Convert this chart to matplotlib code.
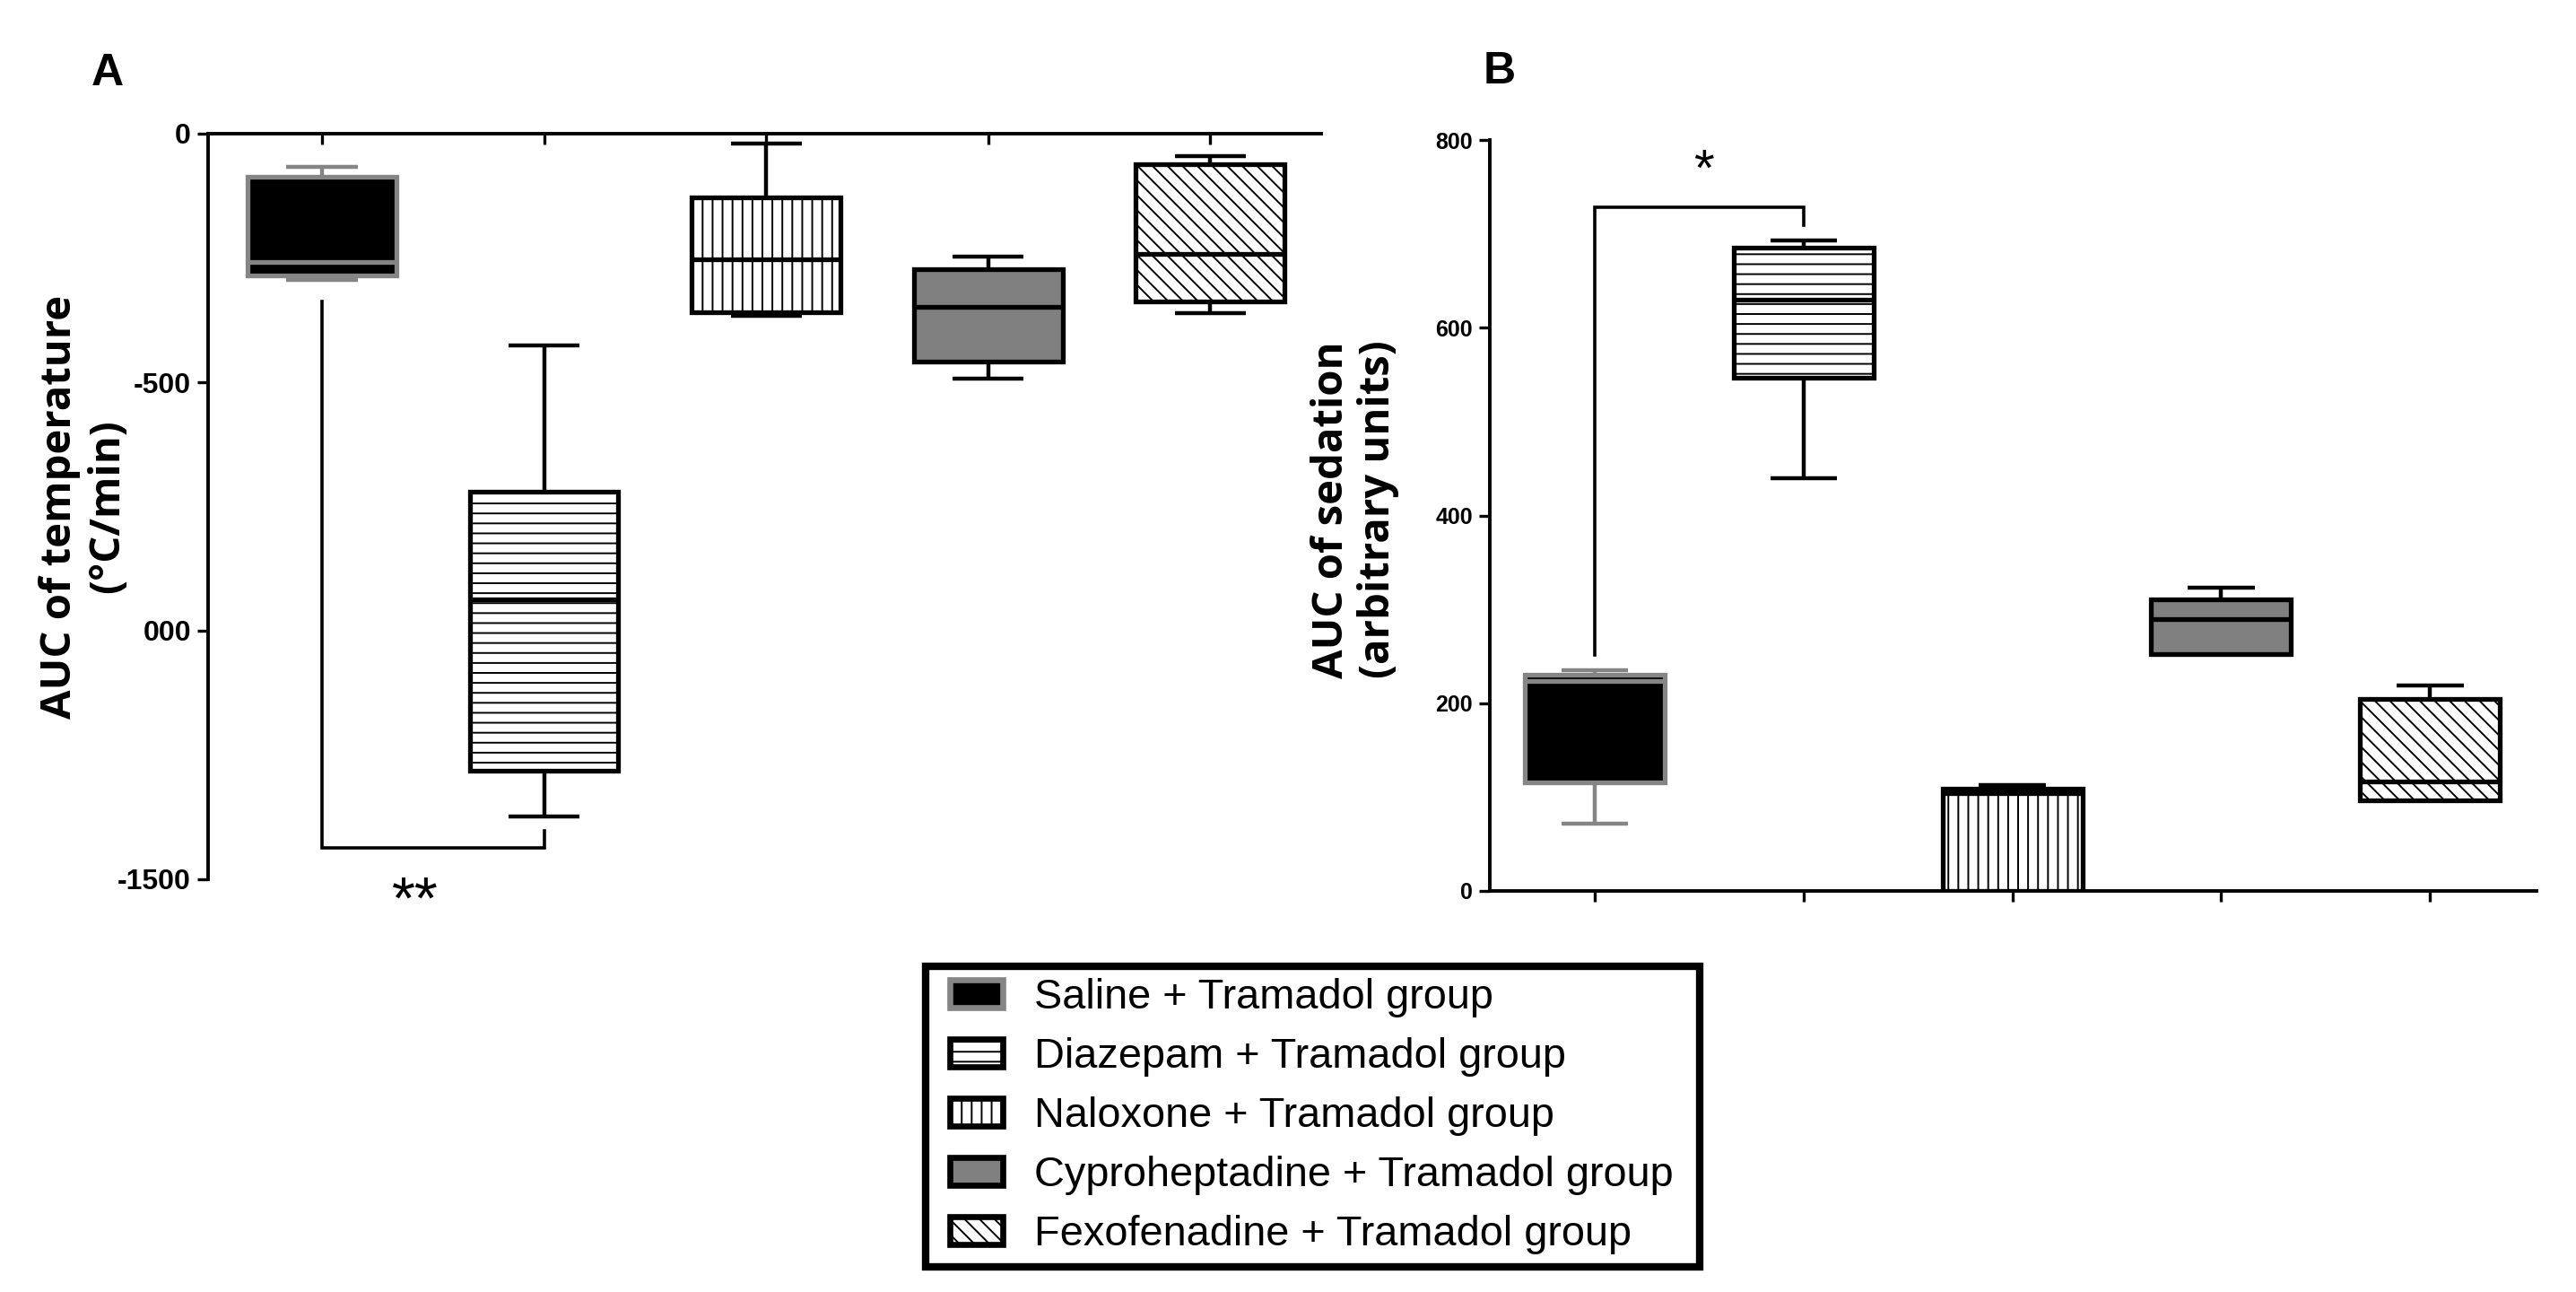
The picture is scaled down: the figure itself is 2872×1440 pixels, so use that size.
import matplotlib
matplotlib.use("Agg")
import matplotlib.pyplot as plt
from matplotlib.patches import Patch, Rectangle
from matplotlib.legend_handler import HandlerPatch

# ---------------- data ----------------
groups = ["Saline + Tramadol group", "Diazepam + Tramadol group",
          "Naloxone + Tramadol group", "Cyproheptadine + Tramadol group",
          "Fexofenadine + Tramadol group"]

# Panel A: AUC of temperature (°C/min)
temp_whislo = [-295, -1373, -367, -492, -361]
temp_q1     = [-286, -1282, -359, -458, -337]
temp_med    = [-258,  -937, -252, -349, -242]
temp_q3     = [ -87,  -720, -128, -273,  -61]
temp_whishi = [ -67,  -426,  -19, -247,  -46]
temp_yticks = [0, -500, -1000, -1500]
temp_yticklabels = ["0", "-500", "000", "-1500"]

# Panel B: AUC of sedation (arbitrary units)
sed_whislo = [ 72, 440,   0, 252,  97]
sed_q1     = [116, 547,   0, 252,  97]
sed_med    = [224, 630, 104, 290, 117]
sed_q3     = [230, 685, 109, 311, 205]
sed_whishi = [235, 693, 113, 323, 219]
sed_yticks = [0, 200, 400, 600, 800]
sed_yticklabels = ["0", "200", "400", "600", "800"]

# significance brackets: left group, right group, bar level, left start, right end, mark
temp_sig = dict(g1=0, g2=1, level=-1436, start=-337, end=-1403, mark="**",
                mark_x=0.42, mark_y=-1548)
sed_sig = dict(g1=0, g2=1, level=728, start=251, end=709, mark="*",
               mark_x=0.52, mark_y=766)

# ---------------- style ----------------
faces = ["black", "white", "white", "#808080", "white"]
edges = ["#858585", "black", "black", "black", "black"]
hatches = [None, "---", "|||", None, "\\\\\\\\"]

plt.rcParams["font.family"] = ["Liberation Sans", "DejaVu Sans"]
plt.rcParams["hatch.linewidth"] = 0.7

W, H = 2872, 1440
fig = plt.figure(figsize=(W / 200, H / 200), dpi=200)

axA = fig.add_axes([232 / W, 1 - 980 / H, (1473 - 232) / W, (980 - 149) / H])
axB = fig.add_axes([1661 / W, 1 - 993 / H, (2828 - 1661) / W, (993 - 156) / H])


def draw_boxes(ax, lo, q1, med, q3, hi):
    stats = [dict(whislo=lo[i], q1=q1[i], med=med[i], q3=q3[i], whishi=hi[i], fliers=[])
             for i in range(len(lo))]
    b = ax.bxp(stats, positions=list(range(len(stats))), widths=0.67, capwidths=0.32,
               patch_artist=True, showfliers=False, manage_ticks=False)
    for i, box in enumerate(b["boxes"]):
        box.set_facecolor(faces[i])
        box.set_edgecolor(edges[i])
        box.set_linewidth(1.9)
        if hatches[i]:
            box.set_hatch(hatches[i])
        box.set_zorder(3)
    for i, m in enumerate(b["medians"]):
        m.set_color(edges[i])
        m.set_linewidth(1.9)
        m.set_zorder(4)
    for i in range(len(stats)):
        for art in (b["whiskers"][2 * i], b["whiskers"][2 * i + 1],
                    b["caps"][2 * i], b["caps"][2 * i + 1]):
            art.set_color(edges[i])
            art.set_linewidth(1.6)
            art.set_solid_capstyle("butt")


def draw_sig(ax, s, fontsize):
    ax.plot([s["g1"], s["g1"], s["g2"], s["g2"]],
            [s["start"], s["level"], s["level"], s["end"]],
            color="black", lw=1.3, clip_on=False, solid_joinstyle="miter")
    ax.text(s["mark_x"], s["mark_y"], s["mark"], ha="center", va="center",
            fontsize=fontsize, clip_on=False)


# ---- Panel A ----
draw_boxes(axA, temp_whislo, temp_q1, temp_med, temp_q3, temp_whishi)
draw_sig(axA, temp_sig, 24)
axA.set_xlim(-0.513, 4.50)
axA.set_ylim(-1500, 0)
for sp in ("right", "bottom"):
    axA.spines[sp].set_visible(False)
for sp in ("top", "left"):
    axA.spines[sp].set_linewidth(1.4)
axA.xaxis.tick_top()
axA.set_xticks(range(5))
axA.set_xticklabels([])
axA.tick_params(axis="x", direction="in", length=4.3, width=1.2, top=True, bottom=False)
axA.set_yticks(temp_yticks)
axA.set_yticklabels(temp_yticklabels, fontweight="bold")
axA.tick_params(axis="y", direction="out", length=4.3, width=1.2, pad=2.5, labelsize=11.5)
axA.set_ylabel("AUC of temperature\n(°C/min)", family="Open Sans", fontweight="bold",
               fontsize=17, linespacing=1.15)
axA.yaxis.label.set_verticalalignment("center")
axA.yaxis.set_label_coords(-0.112, 0.5)

# ---- Panel B ----
draw_boxes(axB, sed_whislo, sed_q1, sed_med, sed_q3, sed_whishi)
draw_sig(axB, sed_sig, 21)
axB.set_xlim(-0.503, 4.51)
axB.set_ylim(0, 800)
for sp in ("right", "top"):
    axB.spines[sp].set_visible(False)
for sp in ("bottom", "left"):
    axB.spines[sp].set_linewidth(1.4)
axB.set_xticks(range(5))
axB.set_xticklabels([])
axB.tick_params(axis="x", direction="out", length=4.3, width=1.2)
axB.set_yticks(sed_yticks)
axB.set_yticklabels(sed_yticklabels, fontweight="bold")
axB.tick_params(axis="y", direction="out", length=4.3, width=1.2, pad=2.5, labelsize=9)
axB.set_ylabel("AUC of sedation\n(arbitrary units)", family="Open Sans", fontweight="bold",
               fontsize=17, linespacing=1.15)
axB.yaxis.label.set_verticalalignment("center")
axB.yaxis.set_label_coords(-0.129, 0.508)

# panel letters
fig.text(120 / W, 1 - 82 / H, "A", fontsize=18, fontweight="bold", ha="center", va="center")
fig.text(1672 / W, 1 - 80 / H, "B", fontsize=18, fontweight="bold", ha="center", va="center")

# legend
LEG_FS = 16.9
HANDLE_SHIFT = 0.3  # in font-size units


def shifted_patch(legend, orig_handle, xdescent, ydescent, width, height, fontsize):
    s = HANDLE_SHIFT * fontsize
    return Rectangle((-xdescent + s, -ydescent), width - s, height)


handles = [Patch(facecolor=faces[i], edgecolor=edges[i], linewidth=2.4, hatch=hatches[i])
           for i in range(len(groups))]
lx0, lx1, ly0, ly1 = 1032, 1895, 1077, 1405
leg = fig.legend(handles, groups, loc="upper left",
                 bbox_to_anchor=(lx0 / W, 1 - ly1 / H, (lx1 - lx0) / W, (ly1 - ly0) / H),
                 mode="expand", borderaxespad=0, fontsize=LEG_FS, frameon=True, fancybox=False,
                 edgecolor="black", framealpha=1, handlelength=1.255 + HANDLE_SHIFT,
                 handleheight=0.64, handletextpad=0.745, borderpad=0.28, labelspacing=0.47,
                 handler_map={Patch: HandlerPatch(patch_func=shifted_patch)})
leg.get_frame().set_linewidth(3)

fig.savefig("out.png", dpi=200, facecolor="white")
